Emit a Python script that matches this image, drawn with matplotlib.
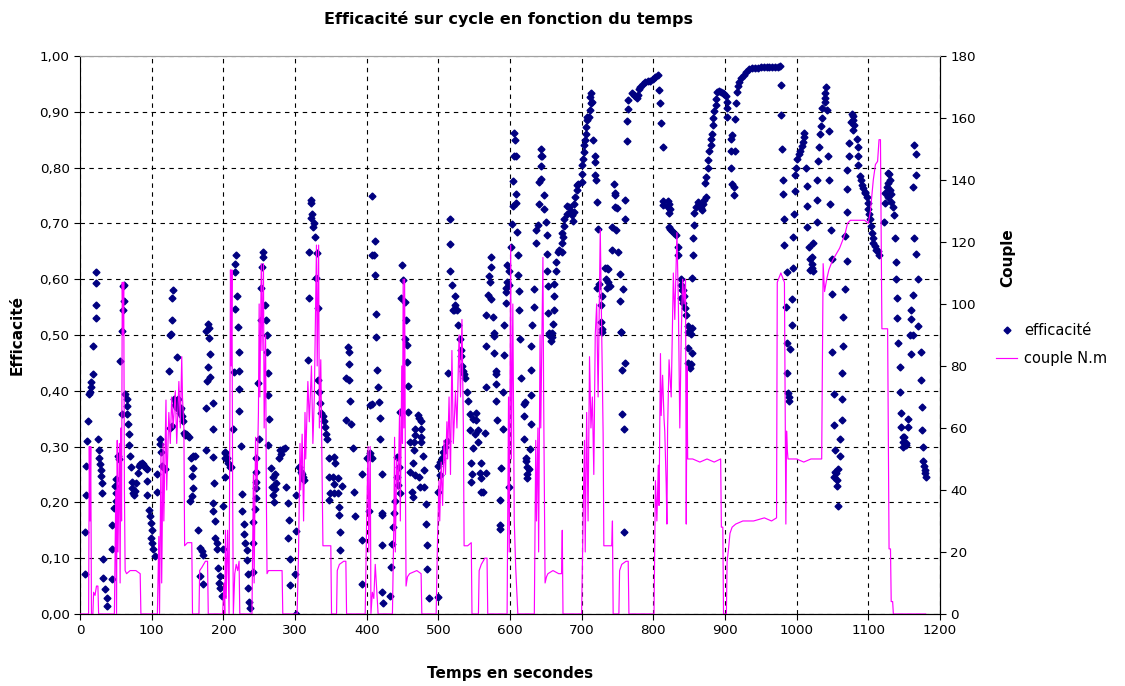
import numpy as np
import matplotlib
matplotlib.use('Agg')
import matplotlib.pyplot as plt
from matplotlib.ticker import FuncFormatter, MultipleLocator
from matplotlib.lines import Line2D

plt.rcParams['font.family'] = ['DejaVu Sans']

# efficacite (temps s, efficacite)
eff_pts = [
    (7,0.147),(7,0.072),(9,0.265),(9,0.213),(10,0.31),(11,0.346),(13,0.394),(14,0.397),(15,0.415),(16,0.406),
    (18,0.43),(18,0.48),(22,0.553),(22,0.612),(23,0.593),(23,0.53),(25,0.314),(26,0.294),(27,0.28),(28,0.268),
    (29,0.258),(30,0.247),(31,0.234),(31,0.217),(32,0.099),(32,0.065),(35,0.044),(37,0.029),(37,0.014),(44,0.16),
    (44,0.117),(44,0.062),(48,0.19),(49,0.229),(50,0.241),(50,0.217),(50,0.202),(53,0.283),(54,0.277),(56,0.454),
    (58,0.358),(59,0.507),(60,0.545),(60,0.588),(61,0.59),(62,0.56),(63,0.394),(65,0.385),(66,0.373),(66,0.358),
    (67,0.34),(69,0.322),(69,0.302),(70,0.283),(71,0.264),(72,0.237),(73,0.226),(74,0.217),(76,0.213),(77,0.22),
    (78,0.235),(81,0.253),(82,0.265),(84,0.269),(86,0.27),(88,0.268),(90,0.265),(92,0.262),(94,0.259),(94,0.238),
    (94,0.214),(96,0.187),(97,0.175),(99,0.163),(100,0.151),(99,0.137),(101,0.128),(102,0.116),(104,0.104),
    (107,0.25),(107,0.219),(111,0.313),(112,0.304),(113,0.29),(114,0.265),(118,0.259),(124,0.436),(125,0.334),
    (126,0.5),(127,0.502),(128,0.337),(128,0.527),(128,0.566),(130,0.58),(131,0.385),(132,0.375),(134,0.38),
    (135,0.37),(136,0.46),(137,0.385),(139,0.36),(140,0.365),(141,0.37),(142,0.355),(144,0.345),(145,0.325),
    (146,0.32),(148,0.322),(150,0.32),(152,0.318),(155,0.28),(158,0.283),(160,0.283),(158,0.262),(156,0.247),
    (158,0.226),(156,0.211),(154,0.202),(165,0.151),(168,0.119),(170,0.113),(172,0.105),(168,0.068),(171,0.053),
    (176,0.508),(178,0.52),(180,0.512),(180,0.494),(182,0.466),(179,0.442),(177,0.418),(182,0.424),(176,0.369),
    (185,0.378),(186,0.331),(176,0.293),(186,0.281),(187,0.234),(186,0.199),(186,0.184),(188,0.166),(188,0.137),
    (191,0.128),(191,0.116),(193,0.083),(195,0.068),(194,0.056),(196,0.047),(198,0.032),(199,0.193),(200,0.116),
    (202,0.29),(203,0.28),(202,0.288),(205,0.279),(206,0.27),(209,0.264),(211,0.263),(202,0.246),(214,0.331),
    (215,0.433),(218,0.643),(216,0.628),(216,0.612),(219,0.57),(216,0.546),(220,0.514),(222,0.47),(222,0.436),
    (222,0.404),(222,0.364),(224,0.301),(226,0.215),(226,0.185),(229,0.161),(229,0.143),(230,0.128),(233,0.114),
    (233,0.096),(235,0.071),(234,0.046),(236,0.022),(237,0.01),(241,0.076),(242,0.164),(242,0.128),(244,0.188),
    (245,0.208),(246,0.279),(246,0.255),(246,0.237),(246,0.225),(248,0.414),(250,0.313),(252,0.585),(253,0.526),
    (254,0.621),(256,0.64),(256,0.649),(258,0.553),(259,0.526),(261,0.5),(261,0.47),(262,0.431),(263,0.392),
    (264,0.349),(263,0.302),(266,0.262),(269,0.245),(268,0.228),(270,0.213),(271,0.201),(272,0.25),(273,0.235),
    (272,0.224),(278,0.279),(279,0.294),(281,0.287),(283,0.295),(286,0.298),(287,0.228),(290,0.199),(291,0.169),
    (290,0.136),(293,0.098),(293,0.052),(300,0.072),(301,0.0),
    (302,0.148),(302,0.213),(306,0.264),(308,0.255),(310,0.25),(311,0.245),(312,0.24),(318,0.455),(320,0.566),
    (320,0.649),(322,0.741),(323,0.736),(324,0.717),(322,0.709),(326,0.7),(325,0.693),(328,0.676),(331,0.647),
    (330,0.603),(332,0.549),(332,0.419),(334,0.398),(335,0.378),(337,0.36),(339,0.355),(340,0.345),(342,0.335),
    (343,0.322),(345,0.313),(347,0.279),(347,0.246),(348,0.204),(353,0.246),(354,0.233),(349,0.217),(355,0.217),
    (360,0.217),(355,0.282),(356,0.27),(360,0.243),(361,0.192),(361,0.177),(363,0.147),(363,0.114),(366,0.229),
    (371,0.422),(371,0.347),(374,0.479),(375,0.47),(375,0.448),(376,0.419),(377,0.382),(378,0.341),(381,0.297),
    (382,0.219),(384,0.176),(393,0.251),(393,0.133),(393,0.054),(400,0.279),(403,0.185),(404,0.288),(405,0.375),
    (407,0.749),(407,0.643),
    (411,0.669),(410,0.643),(411,0.607),(413,0.537),(449,0.625),(451,0.598),(448,0.567),(453,0.559),(455,0.526),
    (413,0.497),(414,0.437),(416,0.406),(407,0.376),(417,0.379),(418,0.352),(418,0.313),(407,0.279),(421,0.251),
    (421,0.181),(422,0.177),(421,0.124),(434,0.084),(422,0.04),(423,0.02),(432,0.032),(456,0.482),(453,0.492),
    (456,0.452),(458,0.408),(458,0.362),(446,0.362),(438,0.181),(437,0.156),(436,0.126),(440,0.203),(443,0.282),
    (445,0.264),(442,0.246),(444,0.231),(446,0.216),(460,0.309),(461,0.255),(468,0.249),(463,0.219),(465,0.21),
    (471,0.356),(473,0.352),(476,0.346),(468,0.331),(476,0.331),(468,0.321),(476,0.318),(466,0.308),(476,0.309),
    (466,0.293),(478,0.284),(464,0.27),(480,0.258),(473,0.246),(474,0.228),(480,0.228),(483,0.197),(483,0.162),
    (484,0.124),(484,0.08),(487,0.029),(500,0.03),
    (514,0.432),(530,0.492),(531,0.473),(531,0.462),(533,0.444),(535,0.435),(536,0.43),(537,0.422),(540,0.398),
    (542,0.382),(500,0.266),(502,0.272),(505,0.28),(507,0.29),(510,0.3),(512,0.31),(502,0.249),(500,0.218),
    (544,0.359),(549,0.35),(553,0.36),(552,0.347),(555,0.33),(544,0.33),(551,0.322),(565,0.324),(548,0.297),
    (556,0.309),(545,0.271),(559,0.271),(547,0.25),(546,0.237),(558,0.253),(566,0.253),(559,0.243),(560,0.219),
    (563,0.219),(567,0.48),(578,0.498),(578,0.468),(580,0.436),(581,0.43),(581,0.412),(566,0.406),(581,0.382),
    (582,0.348),(590,0.398),(591,0.465),(590,0.331),(587,0.262),(586,0.204),(586,0.16),(586,0.152),(599,0.228),
    (517,0.708),(517,0.663),(516,0.614),(519,0.59),(524,0.57),(523,0.553),(520,0.545),(522,0.545),(526,0.545),
    (528,0.518),(573,0.639),(573,0.621),(571,0.605),(572,0.595),(569,0.572),(574,0.564),(567,0.536),(577,0.532),
    (578,0.503),(596,0.625),(599,0.615),(596,0.595),(598,0.59),(595,0.585),(595,0.577),(595,0.558),(592,0.518),
    (606,0.862),(607,0.85),(605,0.82),(608,0.82),(604,0.776),(608,0.752),(609,0.737),(604,0.731),(603,0.699),
    (610,0.685),(601,0.658),(611,0.643),(611,0.607),(612,0.578),(612,0.545),
    (644,0.833),(643,0.82),(645,0.82),(643,0.803),(644,0.78),(641,0.775),(647,0.751),(640,0.735),(647,0.726),
    (650,0.703),(639,0.697),(637,0.688),(636,0.665),(651,0.679),(651,0.646),(652,0.614),(653,0.588),(634,0.582),
    (633,0.55),(631,0.517),(653,0.539),(655,0.504),(658,0.504),
    (660,0.52),(661,0.545),(662,0.569),(661,0.592),(664,0.615),(664,0.631),(667,0.649),(669,0.653),(672,0.649),
    (673,0.665),(674,0.675),(673,0.683),(676,0.695),(675,0.708),(679,0.717),(679,0.732),(683,0.73),(685,0.722),
    (686,0.715),(688,0.705),(689,0.72),(690,0.735),(691,0.748),(693,0.76),(694,0.768),(695,0.77),(700,0.774),
    (700,0.788),(701,0.804),(702,0.816),(703,0.828),(703,0.84),(705,0.85),(706,0.861),(706,0.873),(707,0.885),
    (708,0.89),(710,0.891),(711,0.904),(713,0.915),(714,0.918),(711,0.927),(713,0.934),
    (716,0.85),(718,0.82),(719,0.81),(718,0.787),(720,0.778),(722,0.738),(723,0.69),(722,0.584),(724,0.592),
    (729,0.569),(727,0.553),(727,0.523),(729,0.51),(733,0.62),(735,0.62),(737,0.618),(734,0.6),(737,0.595),
    (739,0.588),(735,0.585),(743,0.694),(748,0.689),(743,0.653),(751,0.649),(753,0.609),(753,0.56),(755,0.505),
    (745,0.77),(746,0.755),(747,0.75),(746,0.73),(749,0.727),(760,0.741),(760,0.708),(758,0.582),
    (763,0.848),(764,0.884),(765,0.905),(765,0.921),(770,0.933),(773,0.93),(775,0.928),(777,0.925),(779,0.93),
    (780,0.94),(782,0.945),(785,0.95),(788,0.953),(792,0.955),(796,0.956),(800,0.958),(803,0.962),(806,0.966),
    (808,0.939),(810,0.915),(811,0.88),(813,0.836),(813,0.74),(814,0.733),
    (614,0.492),(630,0.48),(615,0.422),(630,0.438),(629,0.392),(621,0.38),(620,0.376),(620,0.355),(629,0.34),
    (620,0.313),(628,0.295),(622,0.28),(622,0.274),(624,0.264),(626,0.26),(624,0.25),(624,0.244),(654,0.5),
    (658,0.497),(657,0.49),(729,0.506),(755,0.506),(760,0.45),(757,0.437),(757,0.358),(759,0.331),(759,0.147),
    (820,0.74),(822,0.735),(821,0.73),(823,0.725),(822,0.718),(822,0.693),(824,0.69),(826,0.687),(829,0.683),
    (831,0.68),(834,0.658),(835,0.643),(838,0.6),(840,0.58),(842,0.58),(838,0.567),(841,0.558),(844,0.548),
    (839,0.59),(843,0.57),(845,0.535),(848,0.516),(854,0.513),(854,0.603),(856,0.643),(856,0.673),(857,0.697),
    (857,0.718),(859,0.73),(862,0.739),(864,0.735),(866,0.727),(868,0.724),(869,0.735),(871,0.742),(873,0.748),
    (872,0.772),(874,0.784),(876,0.799),(877,0.814),(878,0.829),(880,0.841),(881,0.851),(882,0.861),(883,0.877),
    (884,0.889),(885,0.901),(887,0.913),(888,0.923),(889,0.935),(892,0.937),(894,0.936),(897,0.934),(899,0.932),
    (901,0.928),(903,0.918),(903,0.906),(903,0.891),(908,0.852),(910,0.858),(914,0.887),(915,0.915),(908,0.83),
    (914,0.83),(908,0.8),(910,0.77),(912,0.765),(912,0.75),
    (917,0.936),(918,0.946),(920,0.954),(923,0.96),(926,0.966),(929,0.972),(933,0.976),(938,0.978),(942,0.979),
    (946,0.979),(950,0.98),(954,0.98),(958,0.98),(962,0.98),(966,0.98),(970,0.98),(974,0.981),(977,0.982),
    (978,0.948),(978,0.894),(979,0.834),(981,0.777),(981,0.752),(983,0.708),(982,0.662),(986,0.613),(985,0.55),
    (993,0.565),(993,0.517),(995,0.675),(995,0.62),(997,0.717),(998,0.758),(998,0.786),(999,0.8),(1001,0.816),
    (1003,0.825),(1005,0.83),(1007,0.838),(1009,0.846),(1010,0.855),(1011,0.862),(1013,0.8),(1015,0.767),
    (1015,0.731),(1015,0.693),(1017,0.657),(1018,0.637),(1019,0.617),
    (848,0.506),(852,0.502),(848,0.476),(854,0.467),(849,0.45),(852,0.448),(851,0.44),(986,0.485),(991,0.474),
    (987,0.431),(988,0.396),(989,0.388),(989,0.381),
    (1041,0.944),(1040,0.934),(1040,0.924),(1039,0.918),(1036,0.906),(1042,0.904),(1035,0.888),(1034,0.874),
    (1033,0.86),(1045,0.866),(1031,0.837),(1044,0.821),(1030,0.812),(1029,0.777),(1045,0.778),(1029,0.742),
    (1047,0.735),(1028,0.703),(1048,0.688),(1023,0.665),(1021,0.64),(1022,0.628),(1022,0.62),(1023,0.614),
    (1049,0.636),(1070,0.632),(1049,0.573),(1068,0.582),(1065,0.532),
    (1077,0.896),(1078,0.892),(1076,0.882),(1079,0.885),(1080,0.876),(1079,0.867),(1084,0.851),(1085,0.837),
    (1073,0.844),(1073,0.821),(1086,0.821),(1086,0.805),(1089,0.785),(1090,0.778),(1091,0.769),(1093,0.763),
    (1095,0.757),(1096,0.754),(1098,0.748),(1100,0.736),(1100,0.726),(1101,0.716),(1102,0.707),(1104,0.695),
    (1105,0.683),(1106,0.674),(1107,0.665),(1109,0.659),(1111,0.653),(1113,0.65),(1115,0.644),
    (1071,0.795),(1071,0.761),(1071,0.721),(1068,0.677),
    (1127,0.791),(1129,0.788),(1130,0.778),(1128,0.772),(1126,0.766),(1130,0.76),(1132,0.753),(1127,0.748),
    (1132,0.739),(1134,0.73),(1136,0.715),(1124,0.755),(1124,0.737),(1122,0.703),(1137,0.673),(1139,0.63),
    (1139,0.6),(1140,0.566),(1140,0.53),
    (1164,0.84),(1166,0.824),(1167,0.787),(1163,0.765),(1164,0.673),(1167,0.645),(1169,0.6),(1163,0.572),
    (1160,0.544),(1160,0.528),(1170,0.516),(1158,0.5),(1163,0.5),
    (1050,0.47),(1065,0.48),(1064,0.432),(1052,0.395),(1064,0.386),(1063,0.348),(1052,0.339),(1061,0.313),
    (1054,0.293),(1061,0.283),(1053,0.255),(1055,0.252),(1058,0.26),(1052,0.245),(1057,0.24),(1056,0.23),
    (1058,0.194),(1141,0.486),(1159,0.466),(1173,0.47),(1144,0.442),(1173,0.419),(1144,0.398),(1146,0.361),
    (1156,0.349),(1175,0.371),(1145,0.335),(1155,0.335),(1175,0.33),(1148,0.317),(1150,0.318),(1149,0.308),
    (1151,0.304),(1149,0.299),(1152,0.302),(1153,0.306),(1176,0.299),(1177,0.274),(1178,0.266),(1179,0.258),
    (1179,0.252),(1180,0.245),
]

# couple N.m (temps s, couple)
couple_pts = [
    (0,0),(12,0),(13,54),(14,30),(15,54),(16,0),(18,0),(19,7),(21,6),(23,9),(25,9),(26,0),
    (48,0),(50,40),(51,0),(52,56),(53,20),(55,55),(56,10),(57,60),(58,30),(59,107),(60,90),(61,107),(62,40),
    (63,14),(65,13),(70,14),(78,14),(84,13),(85,0),
    (108,0),(110,25),(111,0),(113,52),(114,10),(116,55),(117,30),(120,69),(121,40),(124,65),(126,55),(128,70),
    (130,60),(133,72),(135,55),(138,75),(140,60),(142,83),(143,70),(145,60),(146,22),(150,23),(156,23),(157,0),
    (166,0),(167,14),(170,15),(175,17),(178,17),(179,0),
    (199,0),(201,10),(202,0),(203,27),(204,5),(206,27),(208,0),(209,60),(210,111),(211,80),(212,111),(213,40),
    (214,0),(216,13),(218,16),(220,14),(222,17),(223,0),
    (240,0),(242,45),(243,10),(245,57),(247,40),(249,65),(250,100),(251,70),(253,113),(254,85),(256,113),
    (257,60),(259,90),(260,40),(261,13),(263,14),(270,14),(278,14),(282,14),(283,0),
    (303,0),(305,20),(307,55),(308,40),(310,58),(312,30),(314,65),(315,50),(318,75),(320,62),(323,80),(325,55),
    (327,70),(330,119),(331,80),(333,119),(334,60),(336,82),(338,40),(339,22),(345,22),(350,22),(351,0),
    (358,0),(359,14),(362,16),(368,17),(371,17),(372,0),
    (398,0),(400,30),(402,54),(403,20),(405,54),(406,0),(408,7),(410,5),(412,16),(414,8),(416,0),
    (436,0),(438,30),(439,57),(440,20),(442,50),(444,40),(446,66),(447,30),(449,80),(450,55),(451,108),
    (452,60),(453,108),(454,50),(455,9),(457,12),(460,13),(470,14),(476,13),(477,0),
    (497,0),(499,25),(501,43),(502,30),(504,49),(506,35),(508,56),(510,45),(512,62),(513,50),(515,70),
    (517,45),(519,85),(521,55),(524,72),(526,60),(529,90),(531,70),(533,95),(535,60),(536,22),(541,22),
    (546,23),(547,0),(556,0),(557,14),(560,16),(565,18),(568,18),(569,0),
    (596,0),(598,70),(599,20),(601,119),(602,50),(604,100),(606,30),(608,15),(610,5),(611,0),
    (634,0),(636,56),(637,30),(639,60),(640,20),(642,90),(643,60),(646,115),(647,70),(649,10),(651,12),
    (653,13),(660,14),(668,13),(672,13),(673,27),(674,0),
    (700,0),(702,30),(704,56),(705,20),(707,65),(709,30),(711,83),(713,60),(715,70),(717,45),(719,90),
    (721,100),(723,70),(726,124),(728,90),(730,58),(731,22),(738,22),(742,22),(743,30),(744,0),
    (752,0),(753,14),(756,16),(762,17),(765,17),(766,0),
    (801,0),(803,43),(805,30),(807,48),(808,35),(810,84),(811,64),(813,77),(815,63),(816,59),(818,42),
    (819,29),(820,60),(822,82),(825,70),(828,110),(830,95),(833,123),(835,100),(837,60),(839,90),(841,108),
    (843,100),(845,108),(846,29),(847,80),(848,50),(855,50),(865,49),(875,50),(885,49),(894,50),(895,28),
    (897,28),(898,0),(902,0),(903,17),(905,21),(907,26),(910,28),(915,29),(925,30),(940,30),(955,31),
    (965,30),(972,31),(973,107),(978,110),(983,107),(984,65),(985,29),(986,59),(987,53),(988,50),
    (1000,50),(1010,49),(1020,50),(1035,50),(1037,113),(1039,104),(1042,108),(1045,111),(1050,114),
    (1055,116),(1060,118),(1065,121),(1068,123),(1071,126),(1075,127),(1085,127),(1095,127),(1100,126),
    (1103,130),(1107,140),(1110,145),(1113,146),(1115,153),(1117,153),(1118,120),(1119,92),(1127,92),
    (1128,54),(1129,21),(1131,21),(1132,4),(1134,4),(1135,0),(1180,0),
]

eff_t, eff_v = np.array(eff_pts).T
cpl_t, cpl_v = np.array(couple_pts).T

fig = plt.figure(figsize=(11.25, 6.86), dpi=100)
ax = fig.add_axes([0.0711, 0.105, 0.7644, 0.8134])
ax2 = ax.twinx()

ax.plot(eff_t, eff_v, linestyle='none', marker='D', markersize=3.5, color='#000080', zorder=3)
ax2.plot(cpl_t, cpl_v, color='#FF00FF', linewidth=0.85)

ax.set_xlim(0, 1200)
ax.set_ylim(0, 1)
ax2.set_ylim(0, 180)
ax.xaxis.set_major_locator(MultipleLocator(100))
ax.yaxis.set_major_locator(MultipleLocator(0.1))
ax2.yaxis.set_major_locator(MultipleLocator(20))
ax.yaxis.set_major_formatter(FuncFormatter(lambda v, p: '{:.2f}'.format(v).replace('.', ',')))

ax.grid(True, color='black', linestyle=(0, (4, 4)), linewidth=0.8)
ax.set_axisbelow(True)

for a in (ax, ax2):
    a.tick_params(labelsize=9.7, length=4, direction='out')
    a.spines['top'].set_color('#a0a0a0')
ax2.spines['left'].set_visible(False)

ax.set_xlabel('Temps en secondes', fontsize=11, fontweight='bold')
ax.xaxis.set_label_coords(0.5, -0.094)
ax.set_ylabel('Efficacité', fontsize=11, fontweight='bold')
ax.yaxis.set_label_coords(-0.064, 0.5)
fig.text(0.896, 0.624, 'Couple', rotation=90, ha='center', va='center', fontsize=11, fontweight='bold')
fig.text(0.452, 0.972, 'Efficacité sur cycle en fonction du temps', ha='center', va='center',
         fontsize=11.5, fontweight='bold')

handles = [Line2D([], [], linestyle='none', marker='D', markersize=3.5, color='#000080'),
           Line2D([], [], color='#FF00FF', linewidth=0.85)]
fig.legend(handles, ['efficacité', 'couple N.m'], loc='center left', bbox_to_anchor=(0.874, 0.498),
           frameon=False, fontsize=10.5, handlelength=1.4, handletextpad=0.5, labelspacing=0.9)

plt.savefig('out.png', dpi=100)
